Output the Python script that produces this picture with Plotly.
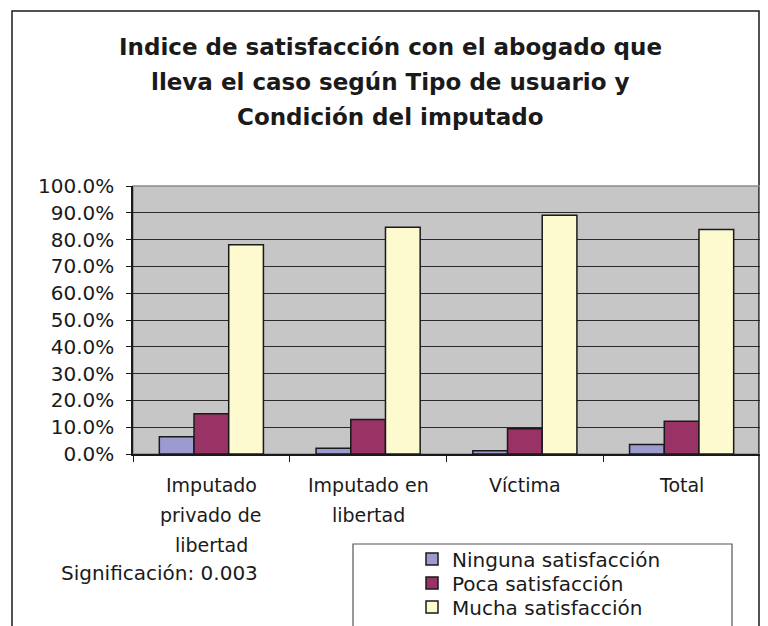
import plotly.graph_objects as go

categories = ["Imputado<br>privado de<br>libertad", "Imputado en<br>libertad", "Víctima", "Total"]
series_names = ["Ninguna satisfacción", "Poca satisfacción", "Mucha satisfacción"]
ninguna = [0.064, 0.021, 0.012, 0.035]
poca = [0.150, 0.129, 0.094, 0.122]
mucha = [0.781, 0.846, 0.891, 0.838]
title_lines = ["Indice de satisfacción con el abogado que",
               "lleva el caso según Tipo de usuario y",
               "Condición del imputado"]
note_text = "Significación: 0.003"
y_ticks = [i / 10 for i in range(11)]

colors = ["#9B9BD0", "#993366", "#FDFAD0"]
FONT = "DejaVu Sans, Liberation Sans, Arial, sans-serif"
TXT = "#1a1a1a"

# page places the figure at an 8px body margin
OFF = 8
W, H = 768 - OFF, 626 - OFF
PL, PR, PT, PB = 133, 760, 186, 454  # plot area in screen pixels
L, T = PL - OFF, PT - OFF
R, B = W - (PR - OFF), H - (PB - OFF)
PW, PH = PR - PL, PB - PT


def px_x(x):
    return (x - PL) / PW


def px_y(y):
    return (PB - y) / PH


fig = go.Figure()
cat_keys = [c.replace("<br>", " ") for c in categories]
legend_ids = ["legend", "legend2", "legend3"]
for name, vals, col, lg in zip(series_names, [ninguna, poca, mucha], colors, legend_ids):
    fig.add_trace(go.Bar(
        x=cat_keys, y=vals, name=name, legend=lg,
        marker=dict(color=col, line=dict(color=TXT, width=1.5)),
    ))

annotations = []
for i, line in enumerate(title_lines):
    annotations.append(dict(
        text=line, xref="paper", yref="paper", x=px_x(390), y=px_y(47 + 35 * i),
        xanchor="center", yanchor="middle", showarrow=False,
        font=dict(family=FONT, size=23, color=TXT, weight="bold"),
    ))
for key, lab in zip(cat_keys, categories):
    for j, part in enumerate(lab.split("<br>")):
        annotations.append(dict(
            text=part, xref="x", yref="paper", x=key, y=0,
            xanchor="center", yanchor="middle", yshift=-(31 + 30 * j),
            showarrow=False, font=dict(family=FONT, size=19, color=TXT),
        ))
annotations.append(dict(
    text=note_text, xref="paper", yref="paper", x=px_x(159), y=px_y(573),
    xanchor="center", yanchor="middle", showarrow=False,
    font=dict(family=FONT, size=20, color=TXT),
))

shapes = [
    dict(type="rect", xref="paper", yref="paper",
         x0=px_x(12), x1=px_x(759), y0=px_y(660), y1=px_y(11),
         line=dict(color=TXT, width=1.5), layer="below"),
    dict(type="rect", xref="paper", yref="paper", x0=0, x1=1, y0=0, y1=1,
         line=dict(color="#8c8c8c", width=1.5), layer="below"),
    dict(type="rect", xref="paper", yref="paper",
         x0=px_x(353), x1=px_x(732), y0=px_y(660), y1=px_y(544),
         line=dict(color="#555555", width=1.2), fillcolor="white", layer="below"),
]

legend_rows = [559, 583, 607]
legend_common = dict(xanchor="left", yanchor="middle", bgcolor="rgba(0,0,0,0)",
                     borderwidth=0, font=dict(family=FONT, size=20, color=TXT),
                     itemwidth=30)

fig.update_layout(
    width=W, height=H,
    margin=dict(l=L, r=R, t=T, b=B, autoexpand=False),
    paper_bgcolor="white", plot_bgcolor="#C6C6C6",
    barmode="group", bargap=0.336, bargroupgap=0,
    font=dict(family=FONT, size=19, color=TXT),
    showlegend=True,
    legend=dict(x=px_x(412), y=px_y(legend_rows[0]), **legend_common),
    legend2=dict(x=px_x(412), y=px_y(legend_rows[1]), **legend_common),
    legend3=dict(x=px_x(412), y=px_y(legend_rows[2]), **legend_common),
    annotations=annotations,
    shapes=shapes,
    xaxis=dict(showticklabels=False, ticks="outside", ticklen=6, tickcolor=TXT,
               tickson="boundaries", showgrid=False, showline=True,
               linecolor=TXT, linewidth=1.5, zeroline=False),
    yaxis=dict(range=[0, 1], tickvals=y_ticks, tickformat=".1%",
               ticks="outside", ticklen=5, tickcolor=TXT,
               showgrid=True, gridcolor="#2a2a2a", gridwidth=1,
               showline=True, linecolor=TXT, linewidth=1.5,
               zeroline=False, ticklabelstandoff=8,
               tickfont=dict(family=FONT, size=20, color=TXT)),
)

fig.write_html("out.html")
